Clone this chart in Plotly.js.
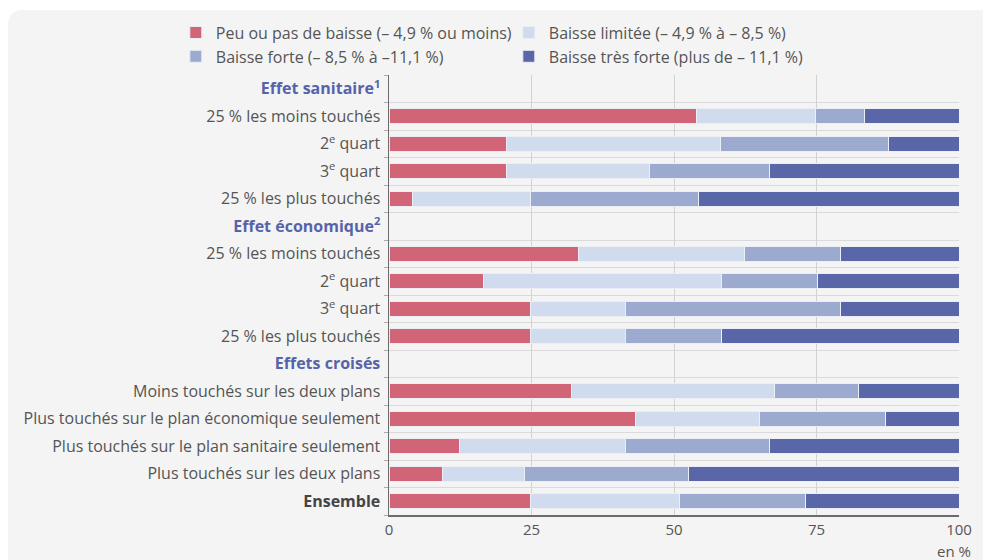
<!DOCTYPE html>
<html>
<head>
<meta charset="utf-8">
<script src="https://cdn.plot.ly/plotly-3.0.1.min.js"></script>
<style>
  html, body { margin: 0; padding: 0; background: #ffffff; }
  #fond { position: absolute; left: 8px; top: 10px; width: 990px; height: 570px;
          background: #f4f4f4; border-radius: 14px; }
  #graphique { position: absolute; left: 0; top: 0; width: 983px; height: 560px; }
</style>
</head>
<body>
<div id="fond"></div>
<div id="graphique"></div>
<script>
// ---------------------------------------------------------------------
// DONNEES (en %), une ligne par libelle ; null = ligne de titre
// ---------------------------------------------------------------------
const BLEU = "#5763a8";

const libelles = [
  `<b><span style="color:${BLEU}">Effet sanitaire<sup>1</sup></span></b>`,
  "25 % les moins touchés",
  "2<sup>e</sup> quart",
  "3<sup>e</sup> quart",
  "25 % les plus touchés",
  `<b><span style="color:${BLEU}">Effet économique<sup>2</sup></span></b>`,
  "25 % les moins touchés",
  "2<sup>e</sup> quart",
  "3<sup>e</sup> quart",
  "25 % les plus touchés",
  `<b><span style="color:${BLEU}">Effets croisés</span></b>`,
  "Moins touchés sur les deux plans",
  "Plus touchés sur le plan économique seulement",
  "Plus touchés sur le plan sanitaire seulement",
  "Plus touchés sur les deux plans",
  `<b><span style="color:#444">Ensemble</span></b>`,
];

const peuOuPas     = [null, 54.0, 20.7, 20.7, 4.1, null, 33.2, 16.6, 24.9, 24.9, null, 32.0, 43.3, 12.4, 9.4, 24.9];
const limitee      = [null, 20.9, 37.5, 25.0, 20.8, null, 29.2, 41.7, 16.6, 16.6, null, 35.7, 21.7, 29.1, 14.4, 26.1];
const forte        = [null, 8.5, 29.4, 21.1, 29.4, null, 16.8, 16.8, 37.7, 16.9, null, 14.6, 22.1, 25.3, 28.7, 22.0];
const tresForte    = [null, 16.6, 12.4, 33.2, 45.7, null, 20.8, 24.9, 20.8, 41.6, null, 17.7, 12.9, 33.2, 47.5, 27.0];

const series = [
  { nom: "Peu ou pas de baisse (– 4,9 % ou moins)", valeurs: peuOuPas, couleur: "#d16476" },
  { nom: "Baisse limitée (– 4,9 % à – 8,5 %)", valeurs: limitee, couleur: "#d0dbee" },
  { nom: "Baisse forte (– 8,5 % à –11,1 %)", valeurs: forte, couleur: "#9daacf" },
  { nom: "Baisse très forte (plus de – 11,1 %)", valeurs: tresForte, couleur: "#5967a8" },
];

const ticksX = [0, 25, 50, 75, 100];

// ---------------------------------------------------------------------
// TRACES
// ---------------------------------------------------------------------
const positions = libelles.map((_, i) => i);
const limites = libelles.map((_, i) => i - 0.5).concat([libelles.length - 0.5]);

const traces = series.map((s) => ({
  type: "bar",
  orientation: "h",
  name: s.nom,
  x: s.valeurs,
  y: positions,
  width: 0.56,
  marker: { color: s.couleur, line: { color: "#eceef5", width: 1 } },
  hoverinfo: "skip",
}));

const layout = {
  width: 983,
  height: 560,
  paper_bgcolor: "rgba(0,0,0,0)",
  plot_bgcolor: "rgba(0,0,0,0)",
  margin: { l: 389, r: 24, t: 75, b: 45 },
  barmode: "stack",
  bargap: 0,
  font: { family: "Open Sans", size: 16, color: "#555555" },
  showlegend: true,
  legend: {
    orientation: "h",
    x: -0.374,
    xanchor: "left",
    y: 1.135,
    yanchor: "top",
    entrywidth: 288,
    tracegroupgap: 0,
    traceorder: "normal",
    font: { family: "Open Sans", size: 16, color: "#555555" },
    bgcolor: "rgba(0,0,0,0)",
  },
  xaxis: {
    range: [0, 100],
    tickvals: ticksX,
    showgrid: true,
    gridcolor: "#d2d2d2",
    gridwidth: 1,
    zeroline: false,
    showline: true,
    linecolor: "#6b6b6b",
    linewidth: 1.5,
    ticks: "",
    tickfont: { size: 15, color: "#555555" },
    fixedrange: true,
  },
  yaxis: {
    range: [libelles.length - 0.5, -0.5],
    tickmode: "array",
    tickvals: positions,
    ticktext: libelles,
    showgrid: false,
    zeroline: false,
    showline: true,
    linecolor: "#6b6b6b",
    linewidth: 1.5,
    ticks: "",
    ticklabelstandoff: 4,
    tickfont: { size: 16, color: "#555555" },
    minor: {
      tickmode: "array",
      tickvals: limites,
      showgrid: true,
      gridcolor: "#dadada",
      gridwidth: 1,
      ticks: "outside",
      ticklen: 4,
      tickcolor: "#aaaaaa",
    },
    fixedrange: true,
  },
  annotations: [
    {
      text: "en %",
      xref: "paper", yref: "paper",
      x: 1.025, y: -0.082,
      xanchor: "right", yanchor: "middle",
      showarrow: false,
      font: { size: 15, color: "#555555" },
    },
  ],
};

Plotly.newPlot("graphique", traces, layout, { displayModeBar: false, staticPlot: true });
</script>
</body>
</html>
